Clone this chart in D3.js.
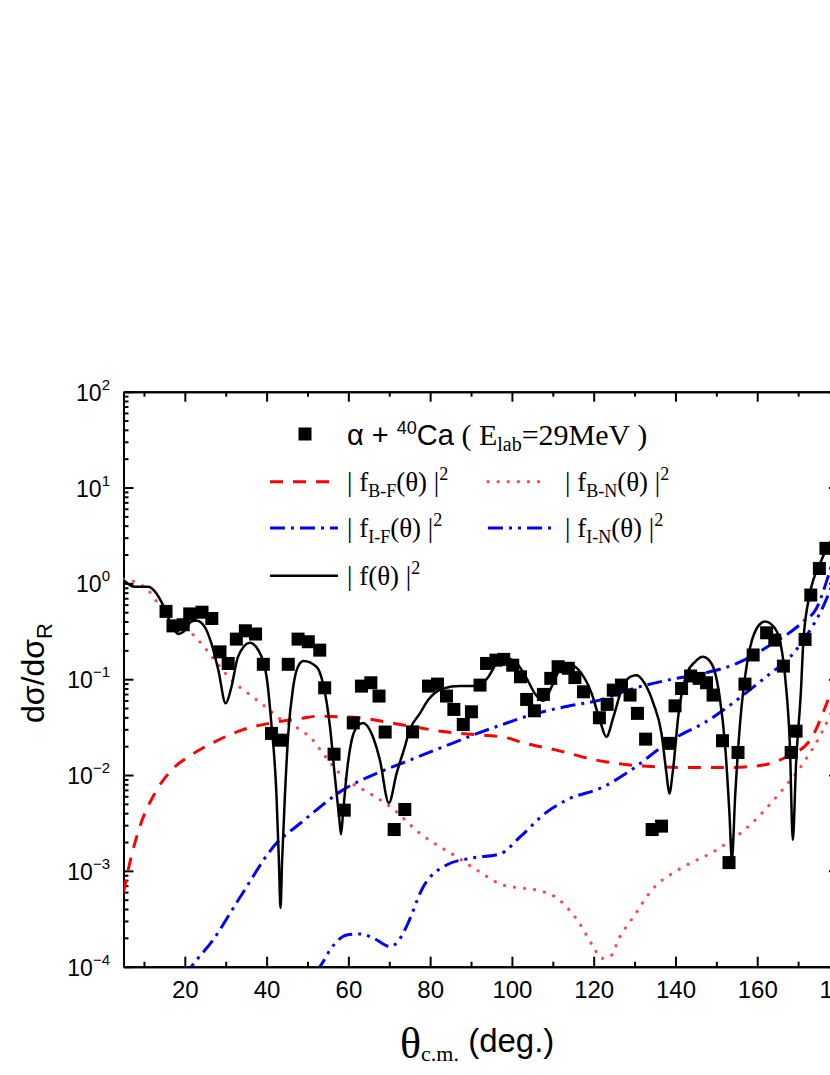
<!DOCTYPE html>
<html>
<head>
<meta charset="utf-8">
<script src="https://cdn.jsdelivr.net/npm/d3@7"></script>
<style>
  body { margin: 0; background: #fff; }
  svg { display: block; overflow: hidden; }
</style>
</head>
<body>
<div id="chart"></div>
<script>
// experimental points (theta c.m., dsigma/dsigma_R)
const expTheta = [15.4, 17.1, 19.6, 21.2, 24.2, 26.6, 28.6, 30.6, 32.6, 34.8, 37.3, 39.2, 41.2, 43.4, 45.3, 47.7, 50.2,
  53.0, 54.2, 56.5, 59.0, 61.2, 63.2, 65.5, 67.5, 69.0, 71.2, 73.8, 75.7, 79.6, 81.8, 84.0, 85.8, 88.1, 90.1, 92.2,
  93.8, 96.1, 98.0, 100.2, 102.1, 103.6, 105.5, 107.7, 109.5, 111.3, 113.8, 115.4, 117.5, 121.4, 123.3, 124.8,
  126.8, 128.9, 130.7, 132.7, 134.3, 136.6, 138.5, 139.9, 141.5, 143.7, 145.8, 147.6, 149.2, 151.5, 153.1, 155.3,
  157.0, 159.0, 162.3, 164.3, 166.4, 168.3, 169.5, 171.7, 173.1, 175.2, 176.8];
const expSigma = [0.51, 0.36, 0.37, 0.48, 0.50, 0.43, 0.193, 0.146, 0.262, 0.32, 0.296, 0.143, 0.0272, 0.0231, 0.143, 0.262, 0.246,
  0.201, 0.0813, 0.0165, 0.0043, 0.035, 0.0847, 0.0918, 0.0667, 0.0281, 0.0027, 0.00437, 0.0282, 0.0847, 0.0889, 0.0667, 0.0484, 0.0337, 0.0457, 0.0868,
  0.146, 0.158, 0.161, 0.140, 0.106, 0.0615, 0.0468, 0.0694, 0.102, 0.135, 0.130, 0.104, 0.0739, 0.0396, 0.0546, 0.0769,
  0.0868, 0.0683, 0.044, 0.0237, 0.0027, 0.00293, 0.0214, 0.0527, 0.080, 0.108, 0.102, 0.0918, 0.0683, 0.0228, 0.00122, 0.0172,
  0.0889, 0.179, 0.305, 0.256, 0.137, 0.0172, 0.0287, 0.26, 0.755, 1.43, 2.32];

// |f(theta)|^2
const totTheta = [5, 7.8, 11, 12.7, 14.7, 16.7, 18.4, 19.6, 21.6, 22.8, 24.9, 26.5, 28.2, 30.0, 31.4, 33.0, 35.9, 38, 40, 41.1,
  42.4, 43.0, 43.4, 43.8, 44.5, 45.3, 46.5, 48.1, 49, 52.2, 53.8, 55.5, 56.7, 57.8, 58.2, 58.7, 59.6, 60.8, 62.4, 63.6,
  65.7, 67.7, 69.9, 71.8, 73.8, 75, 77.5, 79.5, 83.2, 87.3, 91.4, 93.8, 97.1, 98.7, 101.2, 103.6, 105.6, 107.7, 109.7,
  111.7, 114.6, 117.0, 119.5, 121.5, 123.1, 124.8, 126.8, 128.9, 130.5, 132.5, 134.6, 136.6, 137.8, 138.5, 139.3, 140.8,
  142.8, 144.8, 146.7, 148.8, 150.8, 152.1, 153.2, 153.8, 154.6, 155.8, 157.5, 158.3, 159.9, 161.9, 164.1, 165.7, 166.9,
  168.0, 168.7, 169.5, 170.7, 171.3, 172.9, 175.4, 177, 180];
const totSigma = [1.08, 0.92, 0.92, 0.82, 0.59, 0.37, 0.296, 0.31, 0.40, 0.41, 0.35, 0.236, 0.124, 0.056, 0.083, 0.171, 0.24, 0.2, 0.106, 0.037,
  0.0064, 0.0013, 0.00041, 0.0013, 0.0064, 0.027, 0.083, 0.146, 0.155, 0.135, 0.09, 0.032, 0.0096, 0.0034, 0.0024, 0.004, 0.0104, 0.023, 0.033, 0.035,
  0.027, 0.0144, 0.0051, 0.0104, 0.0197, 0.0295, 0.044, 0.0605, 0.08, 0.0847, 0.0847, 0.1, 0.16, 0.165, 0.146, 0.102, 0.071, 0.0595, 0.083,
  0.125, 0.14, 0.115, 0.071, 0.0375, 0.025, 0.040, 0.077, 0.106, 0.11, 0.09, 0.056, 0.027, 0.0104, 0.0064, 0.0104, 0.045,
  0.115, 0.152, 0.171, 0.146, 0.066, 0.0214, 0.004, 0.0013, 0.006, 0.0346, 0.146, 0.218, 0.34, 0.40, 0.35, 0.236, 0.098,
  0.0198, 0.0021, 0.0132, 0.077, 0.256, 0.786, 1.62, 2.32, 3.6];

// |f_B-F(theta)|^2
const bfTheta = [5, 6.1, 9, 12.7, 16.7, 21.6, 27.3, 33.9, 41.2, 48.6, 52.2, 61.2, 73.4, 83.2, 93, 98.7, 102, 110.9, 120.7,
  132.1, 142.7, 153.3, 161.5, 167.2, 172.9, 177, 180];
const bfSigma = [0.00059, 0.001, 0.0029, 0.0065, 0.0112, 0.0162, 0.0222, 0.0294, 0.035, 0.039, 0.041, 0.040, 0.0333, 0.0284, 0.026, 0.0245, 0.0222, 0.0182, 0.0143,
  0.0124, 0.012, 0.012, 0.0127, 0.0155, 0.023, 0.056, 0.13];

// |f_B-N(theta)|^2
const bnTheta = [5, 8.6, 11, 13.4, 16.7, 20, 23.3, 27.3, 31.4, 35.5, 39.6, 43.5, 48.6, 51, 53.8, 58.7, 65.3, 70.2, 77.5, 86.5,
  91.4, 97.9, 101.1, 106, 111.3, 116.6, 119.9, 121.9, 124, 126.4, 129.7, 134.6, 139.9, 141.9, 150, 158.2, 165.5, 171.2, 176.1, 180];
const bnSigma = [1.1, 1.0, 0.85, 0.62, 0.45, 0.35, 0.256, 0.158, 0.098, 0.071, 0.052, 0.038, 0.029, 0.024, 0.0168, 0.0096, 0.0064, 0.0047, 0.00246, 0.0014,
  0.00102, 0.00071, 0.00067, 0.00063, 0.00051, 0.00028, 0.000162, 0.000122, 0.000127, 0.000205, 0.00033, 0.00066, 0.00098, 0.0011, 0.00165, 0.003, 0.0065, 0.0132, 0.0295, 0.07];

// |f_I-F(theta)|^2
const ifTheta = [20, 21.6, 26.9, 33.5, 42.4, 48.1, 50.6, 58.7, 66.9, 75, 83.2, 91.4, 97.1, 105.2, 113.4, 121.5, 129.7, 138.7,
  146.8, 155, 163.2, 171.3, 174.5, 177.3, 180];
const ifSigma = [0.00008, 0.0001, 0.00019, 0.00053, 0.00194, 0.0031, 0.0038, 0.007, 0.0104, 0.0143, 0.0197, 0.027, 0.033, 0.043, 0.052, 0.0605, 0.080, 0.099,
  0.115, 0.146, 0.227, 0.40, 0.55, 1.17, 3];

// |f_I-N(theta)|^2
const inTheta = [52, 53, 56, 59.6, 62.8, 66, 70.2, 72, 74.2, 78.3, 84, 89.7, 97.1, 102, 108.5, 113.4, 122.3, 129.7, 136.2,
  141.1, 146.8, 155, 163.2, 167.3, 171.3, 176.1, 180];
const inSigma = [0.00009, 0.0001, 0.00016, 0.000214, 0.00022, 0.0002, 0.000162, 0.00018, 0.000262, 0.00068, 0.00115, 0.00135, 0.0015, 0.00226, 0.0041, 0.0055, 0.0075, 0.0117, 0.019,
  0.026, 0.0346, 0.0605, 0.115, 0.158, 0.256, 0.57, 1.5];

const xMajor = [20, 40, 60, 80, 100, 120, 140, 160, 180];
const yDecades = [1e-4, 1e-3, 1e-2, 1e-1, 1e0, 1e1, 1e2];
const yExponents = ['\u22124', '\u22123', '\u22122', '\u22121', '0', '1', '2'];

const width = 830;
const height = 1075;
const pLeft = 123.5, pRight = 839, pTop = 391.7, pBottom = 966.7;
const sans = "'Liberation Sans', Arial, sans-serif";
const serif = "'Liberation Serif', 'Times New Roman', serif";

const svg = d3.select('#chart')
  .append('svg')
  .attr('width', width)
  .attr('height', height);

const x = d3.scaleLinear().domain([5, 180]).range([pLeft, pRight]);
const y = d3.scaleLog().domain([1e-4, 1e2]).range([pBottom, pTop]);

const minorX = d3.range(10, 180, 20);
const minorY = [];
yDecades.slice(0, -1).forEach((d) => {
  for (let k = 2; k <= 9; k++) minorY.push(d * k);
});

// axes (ticks point inward)
const styleAxis = (g) => {
  g.select('.domain').attr('stroke', '#000').attr('stroke-width', 2);
  g.selectAll('.tick line').attr('stroke', '#000').attr('stroke-width', 2);
};

svg.append('g')
  .attr('transform', 'translate(0,' + pBottom + ')')
  .call(d3.axisBottom(x).tickValues(minorX).tickFormat('').tickSizeInner(-5).tickSizeOuter(0))
  .call(styleAxis);
const xAxis = svg.append('g')
  .attr('transform', 'translate(0,' + pBottom + ')')
  .call(d3.axisBottom(x).tickValues(xMajor).tickSizeInner(-10).tickSizeOuter(0).tickPadding(14))
  .call(styleAxis);
xAxis.selectAll('.tick text')
  .attr('font-family', sans)
  .attr('font-size', 24)
  .attr('fill', '#000');

svg.append('g')
  .attr('transform', 'translate(0,' + pTop + ')')
  .call(d3.axisTop(x).tickValues(minorX).tickFormat('').tickSizeInner(-5).tickSizeOuter(0))
  .call(styleAxis);
svg.append('g')
  .attr('transform', 'translate(0,' + pTop + ')')
  .call(d3.axisTop(x).tickValues(xMajor).tickFormat('').tickSizeInner(-10).tickSizeOuter(0))
  .call(styleAxis);

svg.append('g')
  .attr('transform', 'translate(' + pLeft + ',0)')
  .call(d3.axisLeft(y).tickValues(minorY).tickFormat('').tickSizeInner(-5).tickSizeOuter(0))
  .call(styleAxis);
svg.append('g')
  .attr('transform', 'translate(' + pLeft + ',0)')
  .call(d3.axisLeft(y).tickValues(yDecades).tickFormat('').tickSizeInner(-10).tickSizeOuter(0))
  .call(styleAxis);

svg.append('g')
  .attr('transform', 'translate(' + pRight + ',0)')
  .call(d3.axisRight(y).tickValues(minorY).tickFormat('').tickSizeInner(-5).tickSizeOuter(0))
  .call(styleAxis);
svg.append('g')
  .attr('transform', 'translate(' + pRight + ',0)')
  .call(d3.axisRight(y).tickValues(yDecades).tickFormat('').tickSizeInner(-10).tickSizeOuter(0))
  .call(styleAxis);

// y tick labels 10^n
const yLab = svg.append('g').selectAll('text')
  .data(yDecades)
  .enter()
  .append('text')
  .attr('x', 110)
  .attr('y', (d) => y(d) + 9)
  .attr('text-anchor', 'end')
  .attr('font-family', sans)
  .attr('font-size', 23);
yLab.append('tspan').text('10');
yLab.append('tspan')
  .attr('dy', -11)
  .attr('font-size', 15)
  .text((d, i) => yExponents[i]);

// axis titles
const xTitle = svg.append('text')
  .attr('x', 400)
  .attr('y', 1058)
  .attr('fill', '#000');
xTitle.append('tspan').attr('font-family', serif).attr('font-size', 44).text('\u03b8');
xTitle.append('tspan').attr('font-family', serif).attr('font-size', 22).attr('dy', 3).text('c.m.');
xTitle.append('tspan').attr('font-family', sans).attr('font-size', 33).attr('dy', -9).text(' (deg.)');

const yTitle = svg.append('text')
  .attr('transform', 'translate(44,673) rotate(-90)')
  .attr('text-anchor', 'middle')
  .attr('font-family', sans)
  .attr('font-size', 32)
  .attr('fill', '#000');
yTitle.append('tspan').text('d\u03c3/d\u03c3');
yTitle.append('tspan').attr('font-size', 22).attr('dy', 8).text('R');

// curves
svg.append('clipPath')
  .attr('id', 'plot-clip')
  .append('rect')
  .attr('x', pLeft)
  .attr('y', pTop)
  .attr('width', pRight - pLeft)
  .attr('height', pBottom - pTop);

const line = d3.line()
  .x((d) => x(d[0]))
  .y((d) => y(d[1]))
  .curve(d3.curveMonotoneX);

const series = [
  { th: bfTheta, s: bfSigma, color: '#ff0000', dash: '13,10', w: 3, cap: 'butt' },
  { th: bnTheta, s: bnSigma, color: '#ff4a4a', dash: '0.1,10', w: 3.2, cap: 'round' },
  { th: ifTheta, s: ifSigma, color: '#0000ff', dash: '15,6,3,6', w: 3, cap: 'butt' },
  { th: inTheta, s: inSigma, color: '#0000ff', dash: '15,6,3,6,3,6', w: 3, cap: 'butt' },
  { th: totTheta, s: totSigma, color: '#000000', dash: null, w: 2.5, cap: 'butt' }
];

const curves = svg.append('g').attr('clip-path', 'url(#plot-clip)');
series.forEach((sr) => {
  curves.append('path')
    .datum(d3.zip(sr.th, sr.s))
    .attr('d', line)
    .attr('fill', 'none')
    .attr('stroke', sr.color)
    .attr('stroke-width', sr.w)
    .attr('stroke-linecap', sr.cap)
    .attr('stroke-dasharray', sr.dash);
});

// data squares
const sq = 13;
svg.append('g').selectAll('rect')
  .data(d3.zip(expTheta, expSigma))
  .enter()
  .append('rect')
  .attr('x', (d) => x(d[0]) - sq / 2)
  .attr('y', (d) => y(d[1]) - sq / 2)
  .attr('width', sq)
  .attr('height', sq)
  .attr('fill', '#000');

// legend
const legend = svg.append('g');
legend.append('rect')
  .attr('x', 305 - 6.5).attr('y', 434 - 6.5)
  .attr('width', sq).attr('height', sq)
  .attr('fill', '#000');
const title = legend.append('text').attr('x', 347).attr('y', 445).attr('fill', '#000');
title.append('tspan').attr('font-family', sans).attr('font-size', 29).text('\u03b1 + ');
title.append('tspan').attr('font-family', sans).attr('font-size', 18).attr('dy', -11).text('40');
title.append('tspan').attr('font-family', sans).attr('font-size', 29).attr('dy', 11).text('Ca');
title.append('tspan').attr('font-family', serif).attr('font-size', 30).text(' ( E');
title.append('tspan').attr('font-family', serif).attr('font-size', 20).attr('dy', 6).text('lab');
title.append('tspan').attr('font-family', serif).attr('font-size', 30).attr('dy', -6).text('=29MeV )');

const legendItems = [
  { sr: series[0], sub: 'B-F', x0: 270, x1: 338, ly: 481.7 },
  { sr: series[1], sub: 'B-N', x0: 488, x1: 545, ly: 481.7 },
  { sr: series[2], sub: 'I-F', x0: 270, x1: 338, ly: 528 },
  { sr: series[3], sub: 'I-N', x0: 488, x1: 552, ly: 528 },
  { sr: series[4], sub: '', x0: 270, x1: 338, ly: 575.7 }
];
legendItems.forEach((it) => {
  legend.append('line')
    .attr('x1', it.x0).attr('x2', it.x1)
    .attr('y1', it.ly).attr('y2', it.ly)
    .attr('stroke', it.sr.color)
    .attr('stroke-width', it.sr.w)
    .attr('stroke-linecap', it.sr.cap)
    .attr('stroke-dasharray', it.sr.dash);
  const t = legend.append('text')
    .attr('x', it.x0 < 400 ? 347 : 565)
    .attr('y', it.ly + 9)
    .attr('font-family', serif)
    .attr('font-size', 27)
    .attr('fill', '#000');
  if (it.sub) {
    t.append('tspan').text('| f');
    t.append('tspan').attr('font-size', 18).attr('dy', 6).text(it.sub);
    t.append('tspan').attr('dy', -6).text('(\u03b8) |');
  } else {
    t.append('tspan').text('| f(\u03b8) |');
  }
  t.append('tspan').attr('font-size', 18).attr('dy', -11).text('2');
});
</script>
</body>
</html>
